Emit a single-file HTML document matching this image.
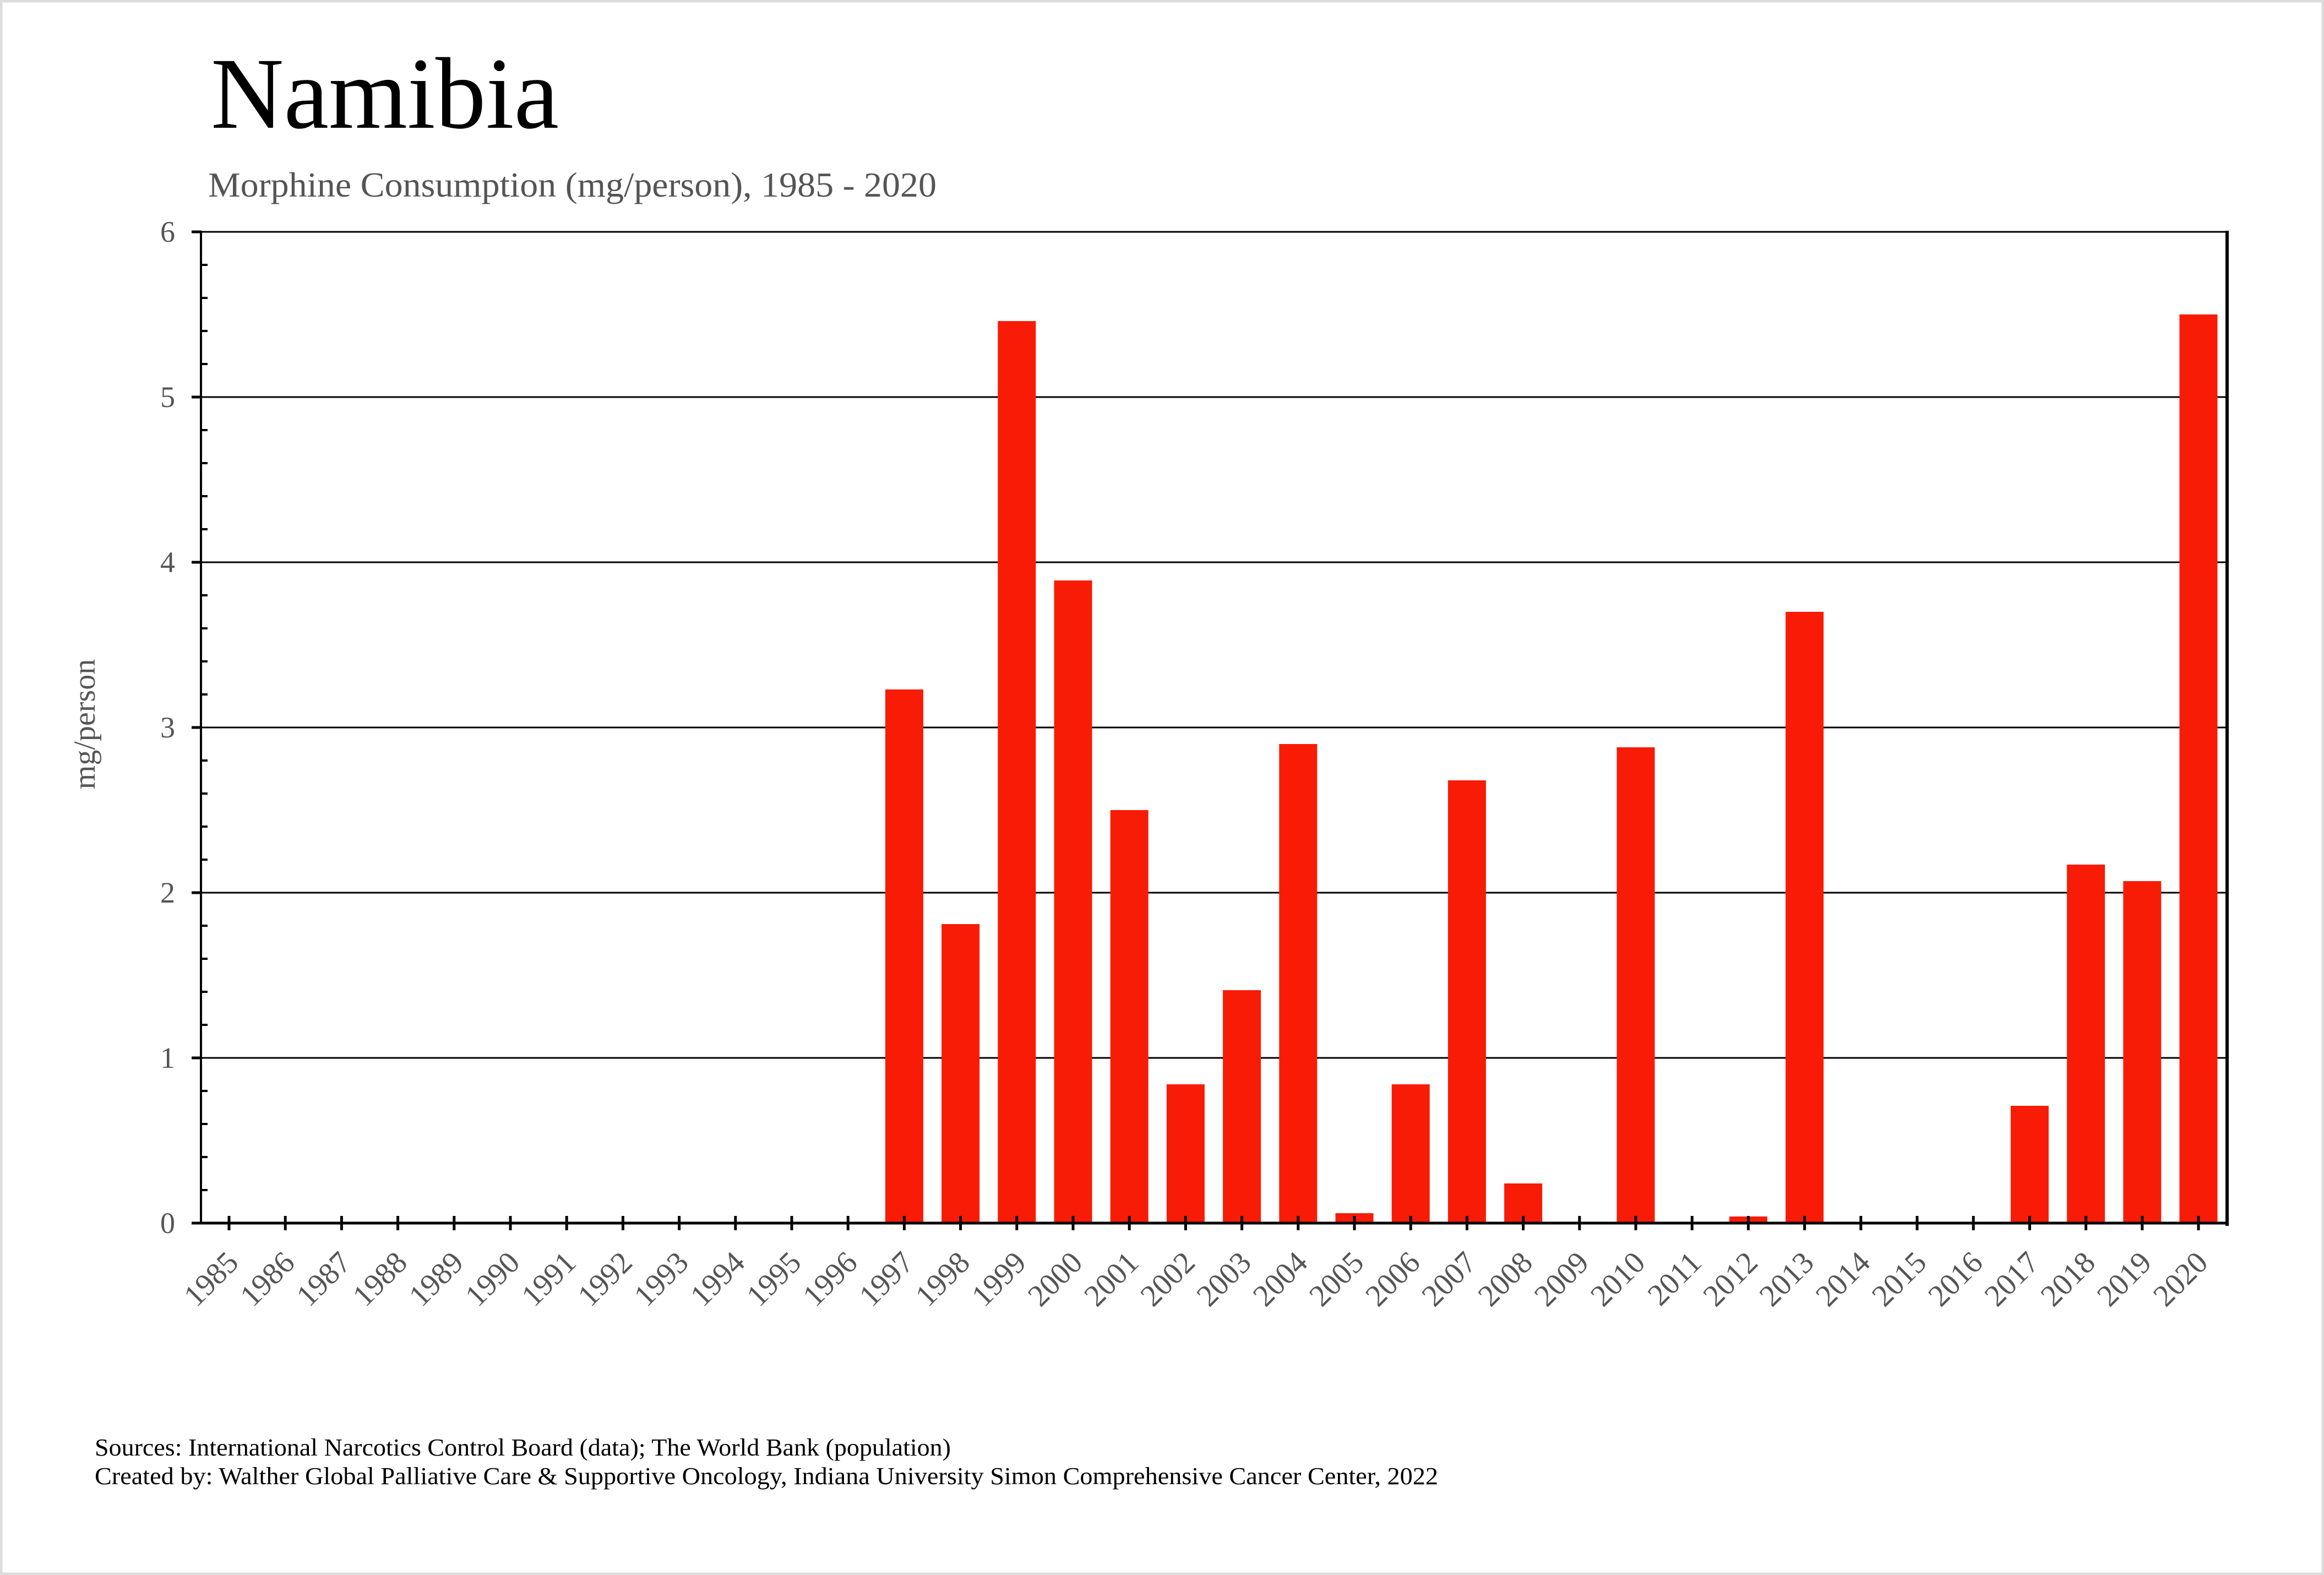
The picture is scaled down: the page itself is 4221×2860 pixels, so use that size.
<!DOCTYPE html>
<html><head><meta charset="utf-8"><style>
html,body{margin:0;padding:0;background:#fff}
svg{display:block}
text{font-family:"Liberation Serif",serif}
</style></head><body>
<svg width="4221" height="2860" viewBox="0 0 4221 2860" xmlns="http://www.w3.org/2000/svg">
<rect x="2" y="2" width="4217" height="2856" fill="#fff" stroke="#dcdcdc" stroke-width="5"/>
<text x="383" y="232" font-size="185" fill="#000" textLength="632" lengthAdjust="spacingAndGlyphs">Namibia</text>
<text x="378" y="357" font-size="64" fill="#555" textLength="1323" lengthAdjust="spacingAndGlyphs">Morphine Consumption (mg/person), 1985 - 2020</text>
<g stroke="#000" stroke-width="3">
<line x1="365" y1="421" x2="4045" y2="421"/>
<line x1="365" y1="721" x2="4045" y2="721"/>
<line x1="365" y1="1021" x2="4045" y2="1021"/>
<line x1="365" y1="1321" x2="4045" y2="1321"/>
<line x1="365" y1="1621" x2="4045" y2="1621"/>
<line x1="365" y1="1921" x2="4045" y2="1921"/>
</g>
<g fill="#f81c06" id="bars"></g>
<g stroke="#000">
<line x1="365" y1="419" x2="365" y2="2223" stroke-width="4"/>
<line x1="4045" y1="419" x2="4045" y2="2226" stroke-width="6"/>
<line x1="348" y1="2221" x2="4045" y2="2221" stroke-width="5"/>
</g>
<g id="ticks" stroke="#000"></g>
<g id="labels" font-size="56" fill="#555"></g>
<text transform="translate(172,1315) rotate(-90)" text-anchor="middle" font-size="56" fill="#555">mg/person</text>
<text x="172" y="2643" font-size="44" fill="#000" textLength="1555" lengthAdjust="spacingAndGlyphs">Sources: International Narcotics Control Board (data); The World Bank (population)</text>
<text x="172" y="2695" font-size="44" fill="#000" textLength="2440" lengthAdjust="spacingAndGlyphs">Created by: Walther  Global Palliative Care &amp; Supportive Oncology, Indiana University Simon Comprehensive Cancer Center, 2022</text>
<script>
var NS="http://www.w3.org/2000/svg";
var vals={1997:3.23,1998:1.81,1999:5.46,2000:3.89,2001:2.50,2002:0.84,2003:1.41,2004:2.90,2005:0.06,2006:0.84,2007:2.68,2008:0.24,2010:2.88,2012:0.04,2013:3.70,2017:0.71,2018:2.17,2019:2.07,2020:5.50};
var bars=document.getElementById('bars'),ticks=document.getElementById('ticks'),labels=document.getElementById('labels');
function el(t,a,p){var e=document.createElementNS(NS,t);for(var k in a)e.setAttribute(k,a[k]);p.appendChild(e);return e;}
for(var i=0;i<36;i++){
 var y=1985+i,cx=416+102.2*i;
 if(vals[y]!==undefined){var h=vals[y]*300;el('rect',{x:cx-34.5,y:2221-h,width:69,height:h},bars);}
 el('line',{x1:cx,y1:2208,x2:cx,y2:2234,'stroke-width':5},ticks);
 var t=el('text',{'text-anchor':'end',transform:'translate('+(cx+20)+',2296) rotate(-45)'},labels);t.textContent=y;
}
for(var v=0;v<=6;v++){
 var yy=2221-300*v;
 el('line',{x1:348,y1:yy,x2:365,y2:yy,'stroke-width':5},ticks);
 var t=el('text',{x:318,y:yy+18,'text-anchor':'end','font-size':'54',fill:'#555'},labels);t.textContent=v;
 if(v<6)for(var m=1;m<5;m++){var ym=yy-60*m;el('line',{x1:365,y1:ym,x2:377,y2:ym,'stroke-width':4},ticks);}
}
</script>
</svg>
</body></html>
